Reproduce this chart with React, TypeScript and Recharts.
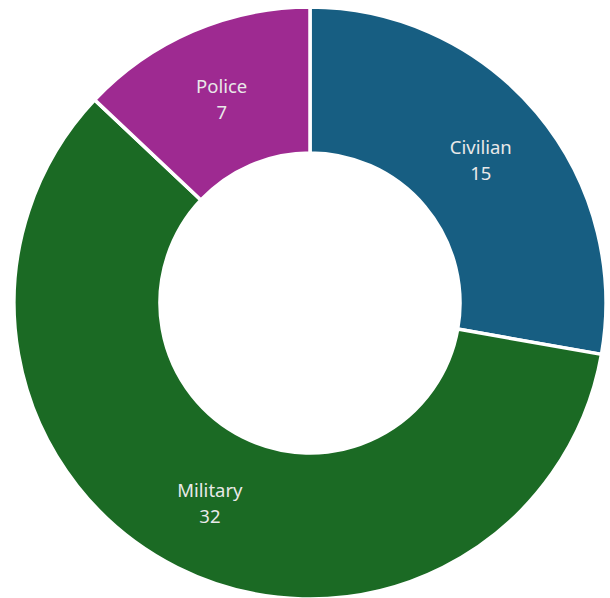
import React from "react";
import { PieChart, Pie, Cell } from "recharts";

const categories = ["Civilian", "Military", "Police"];
const values = [15, 32, 7];
const colors = ["#175E82", "#1B6A24", "#9E2A91"];

const data = categories.map((name, i) => ({ name, value: values[i] }));

const RAD = Math.PI / 180;

const renderLabel = (props: any) => {
  const { cx, cy, midAngle, innerRadius, outerRadius, name, value } = props;
  const r = (innerRadius + outerRadius) / 2;
  const x = cx + r * Math.cos(-midAngle * RAD);
  const y = cy + r * Math.sin(-midAngle * RAD);
  return (
    <text
      x={x}
      y={y}
      fill="#E9E9E9"
      textAnchor="middle"
      fontFamily="'Noto Sans', sans-serif"
      fontSize={18.5}
    >
      <tspan x={x} dy={-13} dominantBaseline="central">{name}</tspan>
      <tspan x={x} dy={26} dominantBaseline="central">{value}</tspan>
    </text>
  );
};

export default function App() {
  return (
    <div style={{ position: "absolute", left: 0, top: 0, width: 610, height: 598 }}>
      <PieChart width={610} height={598} margin={{ top: 0, right: 0, bottom: 0, left: 0 }}>
        <Pie
          data={data}
          dataKey="value"
          nameKey="name"
          cx={310}
          cy={303}
          innerRadius={150}
          outerRadius={296}
          startAngle={90}
          endAngle={-270}
          stroke="#FFFFFF"
          strokeWidth={3.5}
          label={renderLabel}
          labelLine={false}
          isAnimationActive={false}
        >
          {data.map((d, i) => (
            <Cell key={d.name} fill={colors[i]} />
          ))}
        </Pie>
      </PieChart>
    </div>
  );
}
